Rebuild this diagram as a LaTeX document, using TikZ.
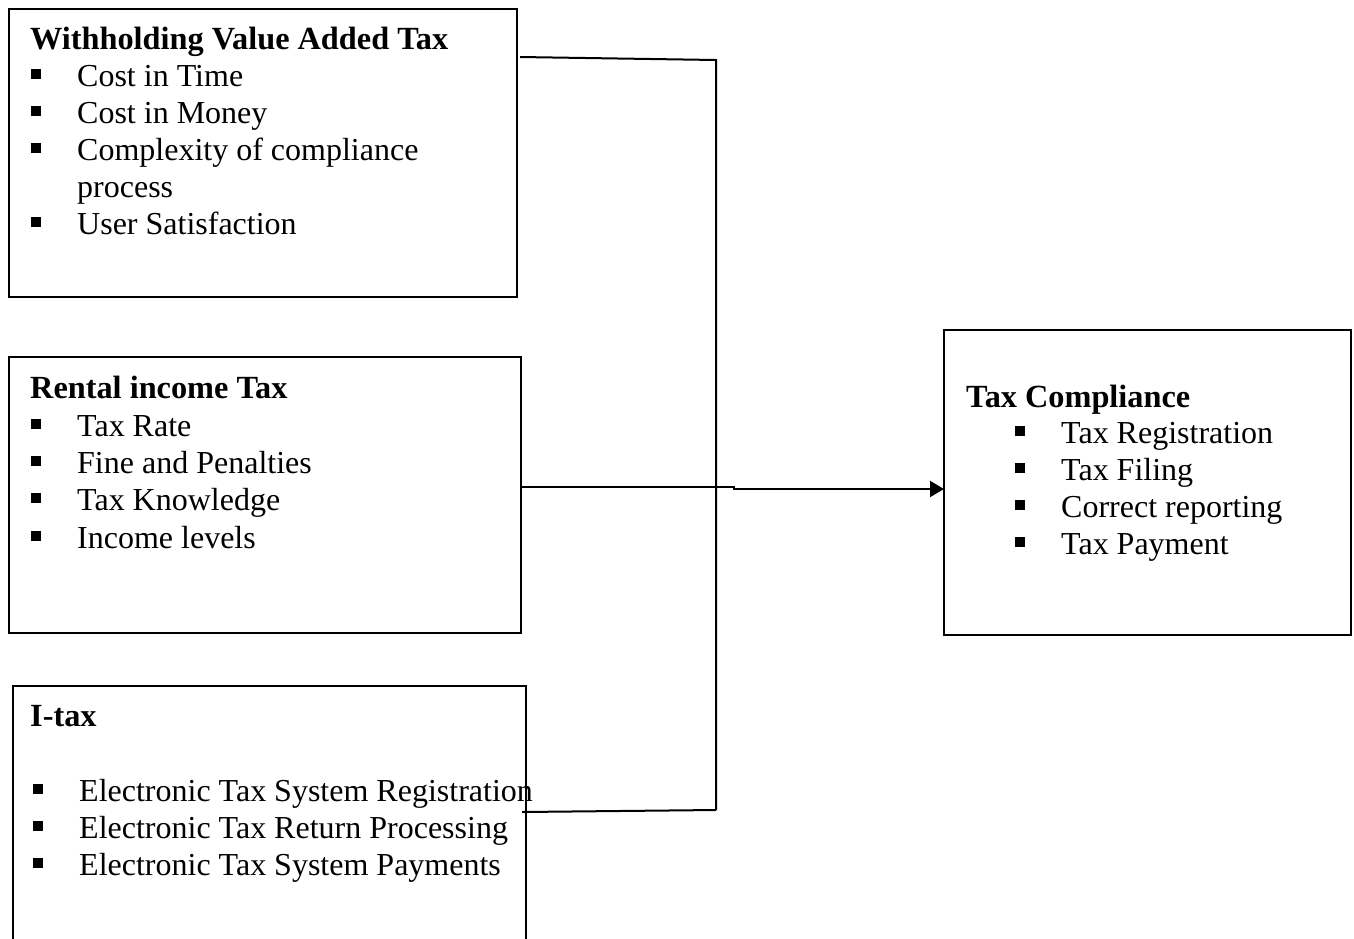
\documentclass[tikz,border=0pt]{standalone}
\usepackage{fontspec}
\setmainfont{Liberation Serif}
\usetikzlibrary{calc,arrows.meta}
\newcommand\bitem[4]{% name, x, y(baseline), text
  \node[txt] (#1) at (#2,#3) {\makebox[0pt][r]{\rule[7pt]{10pt}{10pt}\hspace{36pt}}#4};}
\begin{document}
\begin{tikzpicture}[x=1pt,y=-1pt,
  box/.style={draw,line width=1.5pt,inner sep=0pt,outer sep=0pt,anchor=north west},
  txt/.style={anchor=base west,inner sep=0pt,font=\fontsize{32}{37}\selectfont},
  ttl/.style={txt,font=\fontsize{32.3}{37}\selectfont\bfseries},
  conn/.style={line width=2pt}]
\useasboundingbox (0,0) rectangle (1354,938);
\clip (0,0) rectangle (1354,938);
% boxes
\node[box,minimum width=508pt,minimum height=288pt] (wvat) at (9,9) {};
\node[box,minimum width=512pt,minimum height=276pt] (rent) at (9,357) {};
\node[box,minimum width=513pt,minimum height=300pt] (itax) at (13,686) {};
\node[box,minimum width=407pt,minimum height=305pt] (tc) at (944,330) {};
% texts
\node[ttl] (t1) at (30,49) {Withholding Value Added Tax};
\bitem{a1}{77}{86}{Cost in Time}
\bitem{a2}{77}{123}{Cost in Money}
\bitem{a3}{77}{160}{Complexity of compliance}
\node[txt] (a3b) at (77,197) {process};
\bitem{a4}{77}{234}{User Satisfaction}
\node[ttl] (t2) at (30,398) {Rental income Tax};
\bitem{b1}{77}{436}{Tax Rate}
\bitem{b2}{77}{473}{Fine and Penalties}
\bitem{b3}{77}{510}{Tax Knowledge}
\bitem{b4}{77}{548}{Income levels}
\node[ttl] (t3) at (30,726) {I-tax};
\bitem{c1}{79}{801}{Electronic Tax System Registration}
\bitem{c2}{79}{838}{Electronic Tax Return Processing}
\bitem{c3}{79}{875}{Electronic Tax System Payments}
\node[ttl] (t4) at (966,407) {Tax Compliance};
\bitem{d1}{1061}{443}{Tax Registration}
\bitem{d2}{1061}{480}{Tax Filing}
\bitem{d3}{1061}{517}{Correct reporting}
\bitem{d4}{1061}{554}{Tax Payment}
% connectors
\coordinate (j1) at (716,60);
\coordinate (j2) at (716,810);
\coordinate (k1) at (734,487);
\coordinate (k2) at (734,489);
\draw[conn] ($(wvat.north east)+(3,48)$) -- (j1) -- (j2);
\draw[conn] ($(rent.north east)+(0,130)$) -- (k1) -- (k2)
  -- (tc.west |- k2) [-{Triangle[length=14pt,width=16pt]}];
\draw[conn] ($(itax.north east)+(-4,126)$) -- (j2);
\end{tikzpicture}
\end{document}
